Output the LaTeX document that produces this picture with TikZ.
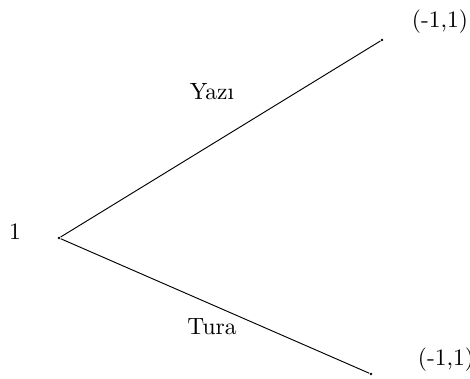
\documentclass[tikz,border=0pt]{standalone}
\begin{document}
\begin{tikzpicture}[x=0.4255pt,y=-0.4255pt,
  endpt/.style={circle,fill=black,inner sep=0pt,minimum size=1.2pt},
  lbl/.style={inner sep=0pt,font=\fontsize{10}{12}\selectfont}]
\useasboundingbox (0,0) rectangle (470,379);
\node[endpt] (r) at (59,238) {};
\node[endpt] (t) at (382,40) {};
\node[endpt] (b) at (371,374) {};
\node[lbl] (rl) at (15,232) {1};
\node[lbl] (tl) at (440,22) {(-1,1)};
\node[lbl] (bl) at (446,360) {(-1,1)};
\node[lbl] (y) at (212,92) {Yaz\i};
\node[lbl] (u) at (212,327) {Tura};
\draw[line width=0.4pt] (r) -- (t);
\draw[line width=0.4pt] (r) -- (b);
\end{tikzpicture}
\end{document}
